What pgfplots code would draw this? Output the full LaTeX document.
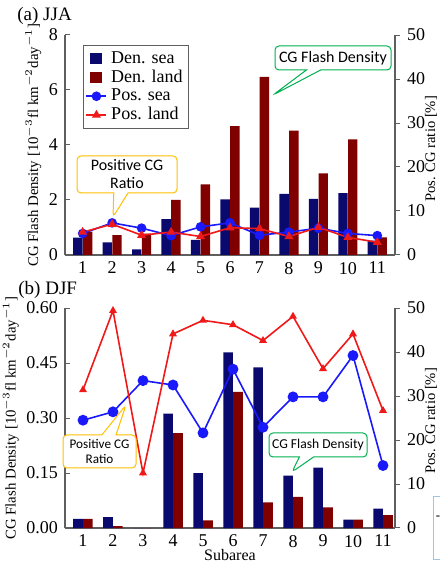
\documentclass[border=0pt]{standalone}
\usepackage{pgfplots}
\pgfplotsset{compat=1.18}
\usepackage{fontspec}
\setmainfont{Liberation Serif}
\newfontfamily\calib{Carlito}
\usetikzlibrary{shapes.callouts}
\definecolor{densea}{RGB}{10,10,110}
\definecolor{denland}{RGB}{128,0,0}
\definecolor{possea}{RGB}{25,25,250}
\definecolor{posland}{RGB}{240,25,25}
\definecolor{axgray}{RGB}{95,95,95}
\definecolor{callY}{RGB}{255,192,0}
\definecolor{callG}{RGB}{0,176,80}
\definecolor{callB}{RGB}{157,195,230}
\pgfplotsset{
  base/.style={scale only axis, width=165pt, height=110pt,
    xmin=0.4, xtick={1,2,...,11},
    axis line style={axgray, line width=0.6pt},
    tick style={axgray, line width=0.5pt},
    xtick style={draw=none},
    major tick length=2.5pt, tick align=inside,
    ticklabel style={font=\rmfamily\fontsize{9}{10}\selectfont},
    label style={font=\rmfamily\fontsize{7.4}{8}\selectfont},
    /pgf/number format/assume math mode=true},
  right/.style={axis y line*=right, axis x line=none, tick align=outside, ymin=0, ymax=50, ytick={0,10,...,50}},
  sea/.style={ybar, bar width=0.32, bar shift=-0.165, fill=densea, draw=none},
  land/.style={ybar, bar width=0.32, bar shift=0.165, fill=denland, draw=none},
  psea/.style={possea, line width=0.8pt, mark=*, mark size=2pt, mark options={fill=possea, draw=possea}},
  pland/.style={posland, line width=0.8pt, mark=triangle*, mark size=1.8pt, mark options={fill=posland, draw=posland}},
  sqleg/.style={legend image code/.code={\fill[##1] (2pt,-2.8pt) rectangle (8pt,2.8pt);}},
  lnleg/.style={legend image code/.code={\draw[##1, mark repeat=2, mark phase=2] plot coordinates {(0pt,0pt)(5pt,0pt)(10pt,0pt)};}},
}
\tikzset{call/.style={rectangle callout, rounded corners=2pt, line width=0.5pt, fill=white, align=center, inner sep=1pt},
  rlab/.style={rotate=90, inner sep=0pt, font=\rmfamily\fontsize{7.3}{8}\selectfont}}
\begin{document}
\begin{tikzpicture}
\useasboundingbox (0,0) rectangle (219.5pt,283.5pt);
% ---------------- (a) JJA ----------------
\begin{axis}[base, at={(32.5pt,156pt)}, anchor=south west,
  xmax=11.6, ymin=0, ymax=8, ytick={0,2,4,6,8},
  axis y line*=left, axis x line*=bottom,
  ylabel={CG Flash Density [10$^{-3}$fl km$^{-2}$day$^{-1}$]}, ylabel shift=-3pt,
  legend style={at={(0.055,0.955)}, anchor=north west, draw=axgray, line width=0.5pt,
    font=\rmfamily\fontsize{9}{9}\selectfont, inner sep=1pt, row sep=-2.2pt,
    /tikz/every even column/.append style={column sep=0pt}},
  legend cell align=left]
\addplot[sea, sqleg] coordinates {(1,0.63)(2,0.46)(3,0.2)(4,1.3)(5,0.55)(6,2.02)(7,1.72)(8,2.22)(9,2.04)(10,2.25)(11,0.52)};
\addlegendentry{Den. sea}
\addplot[land, sqleg] coordinates {(1,0.85)(2,0.72)(3,0.78)(4,2.0)(5,2.57)(6,4.69)(7,6.48)(8,4.52)(9,2.97)(10,4.2)(11,0.64)};
\addlegendentry{Den. land}
\addlegendimage{psea, lnleg}
\addlegendentry{Pos. sea}
\addlegendimage{pland, lnleg}
\addlegendentry{Pos. land}
\end{axis}
\begin{axis}[base, right, at={(32.5pt,156pt)}, anchor=south west, xmax=11.6]
\addplot[psea] coordinates {(1,4.9)(2,7.3)(3,6.1)(4,4.4)(5,6.4)(6,7.3)(7,4.5)(8,5.2)(9,6.1)(10,4.9)(11,4.4)};
\addplot[pland] coordinates {(1,5.2)(2,7.0)(3,4.5)(4,5.2)(5,4.2)(6,6.2)(7,6.0)(8,4.2)(9,6.3)(10,4.0)(11,2.9)};
\end{axis}
% ---------------- (b) DJF ----------------
\begin{axis}[base, at={(32.5pt,19.5pt)}, anchor=south west,
  xmax=11.4, ymin=0, ymax=0.6, ytick={0,0.15,0.3,0.45,0.6},
  yticklabel style={/pgf/number format/.cd, fixed, fixed zerofill, precision=2},
  axis y line*=left, axis x line*=bottom,
  xlabel={Subarea},
  xlabel style={at={(axis description cs:0.5,0)}, anchor=center, yshift=-13.5pt, font=\rmfamily\fontsize{8}{9}\selectfont},
  ylabel={CG Flash Density [10$^{-3}$fl km$^{-2}$day$^{-1}$]}, ylabel shift=-3pt]
\addplot[sea] coordinates {(1,0.025)(2,0.03)(3,0)(4,0.312)(5,0.15)(6,0.479)(7,0.438)(8,0.143)(9,0.165)(10,0.023)(11,0.053)};
\addplot[land] coordinates {(1,0.025)(2,0.005)(3,0)(4,0.259)(5,0.021)(6,0.371)(7,0.07)(8,0.085)(9,0.056)(10,0.023)(11,0.035)};
\end{axis}
\begin{axis}[base, right, at={(32.5pt,19.5pt)}, anchor=south west, xmax=11.4]
\addplot[psea, mark size=2.3pt] coordinates {(1,24.5)(2,26.4)(3,33.5)(4,32.5)(5,21.6)(6,36.1)(7,22.9)(8,29.8)(9,29.8)(10,39.2)(11,14.2)};
\addplot[pland, mark size=1.5pt] coordinates {(1,31.4)(2,49.4)(3,12.5)(4,44.1)(5,47.2)(6,46.2)(7,42.6)(8,48.1)(9,36.2)(10,44.1)(11,26.7)};
\end{axis}
% right axis labels
\node[rlab] at (215.5pt,209pt) {Pos. CG ratio [\%]};
\node[rlab] at (215.5pt,73pt) {Pos. CG ratio [\%]};
% titles
\node[anchor=west, inner sep=0pt, font=\rmfamily\fontsize{9.5}{10}\selectfont] at (8.5pt,275.5pt) {(a) JJA};
\node[anchor=west, inner sep=0pt, font=\rmfamily\fontsize{9.5}{10}\selectfont] at (9pt,138.5pt) {(b) DJF};
% callouts
\node[call, draw=callY, minimum width=50pt, minimum height=18.5pt, font=\calib\fontsize{8}{9}\selectfont, callout absolute pointer={(56.5pt,175pt)}] at (63.5pt,196.25pt) {Positive CG\\Ratio};
\node[call, draw=callG, minimum width=58pt, minimum height=12pt, font=\calib\fontsize{8}{9}\selectfont, callout absolute pointer={(136.5pt,236pt)}] at (166.5pt,254.5pt) {CG Flash Density};
\node[call, draw=callY, minimum width=36.5pt, minimum height=16.5pt, font=\calib\fontsize{6.6}{7.8}\selectfont, callout absolute pointer={(63pt,81pt)}] at (49.75pt,57.75pt) {Positive CG\\Ratio};
\node[call, draw=callG, minimum width=49pt, minimum height=12pt, font=\calib\fontsize{6.8}{8}\selectfont, callout absolute pointer={(146pt,47.5pt)}] at (159pt,61pt) {CG Flash Density};
% partial box at right edge
\draw[callB, line width=0.5pt] (216.5pt,3.5pt) rectangle (230pt,35pt);
\node[inner sep=0pt, font=\calib\fontsize{7}{8}\selectfont] at (219pt,24.5pt) {-};
\end{tikzpicture}
\end{document}
